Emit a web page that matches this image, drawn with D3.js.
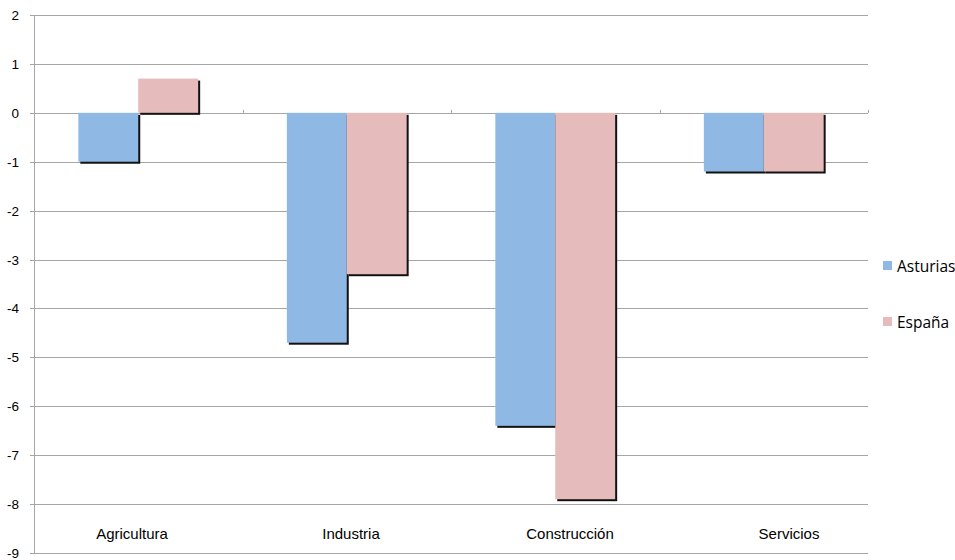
<!DOCTYPE html>
<html><head><meta charset="utf-8">
<script src="https://cdn.jsdelivr.net/npm/d3@7"></script>
<style>body{margin:0;background:#fff}svg{display:block}</style>
</head><body><svg id="c" width="955" height="560"></svg>
<script>
const categories = ["Agricultura","Industria","Construcción","Servicios"];
const seriesNames = ["Asturias","España"];
const asturias = [-1.0,-4.7,-6.4,-1.2];
const espana = [0.7,-3.3,-7.9,-1.2];
const yTicks = [2,1,0,-1,-2,-3,-4,-5,-6,-7,-8,-9];
const colors = ["#8fb9e4","#e6bbbb"];

(function(){
const svg = d3.select("#c");
const pL = 34, pR = 868, pT = 15, pB = 553;
const y = d3.scaleLinear().domain([-9,2]).range([pB, pT]);
const x0 = d3.scaleBand().domain(categories).range([pL, pR]).paddingInner(0).paddingOuter(0);
const x1 = d3.scaleBand().domain(seriesNames).range([0, x0.bandwidth()]).paddingInner(0).paddingOuter(0.74);
const xLabel = d3.scalePoint().domain(categories).range([132, 789]);

svg.append("g").selectAll("line").data(yTicks).join("line")
  .attr("x1", pL-4).attr("x2", pR)
  .attr("y1", d=>Math.round(y(d))+0.5).attr("y2", d=>Math.round(y(d))+0.5)
  .attr("stroke","#a6a6a6").attr("stroke-width",1);
svg.append("line").attr("x1",pL+0.5).attr("x2",pL+0.5).attr("y1",pT).attr("y2",pB)
  .attr("stroke","#a6a6a6");
svg.append("g").selectAll("text").data(yTicks).join("text")
  .attr("x",19).attr("y",d=>y(d)+5).attr("text-anchor","end")
  .attr("font-family","Liberation Sans, Arial, sans-serif").attr("font-size",13.5).attr("fill","#000")
  .text(d=>d);
const bounds = categories.map(c=>x0(c)+x0.bandwidth());
svg.append("g").selectAll("line").data(bounds).join("line")
  .attr("x1",d=>Math.round(d)+0.5).attr("x2",d=>Math.round(d)+0.5)
  .attr("y1",y(0)-3).attr("y2",y(0))
  .attr("stroke","#a6a6a6");

const data = [];
categories.forEach((c,i)=>{
  data.push({c, s:"Asturias", v:asturias[i], k:0});
  data.push({c, s:"España", v:espana[i], k:1});
});
svg.append("g").selectAll("rect").data(data).join("rect")
  .attr("x",d=>x0(d.c)+x1(d.s)+2)
  .attr("y",d=>Math.min(y(d.v),y(0))+2)
  .attr("width",x1.bandwidth())
  .attr("height",d=>Math.abs(y(d.v)-y(0)))
  .attr("fill","#111");
svg.append("g").selectAll("rect").data(data).join("rect")
  .attr("x",d=>x0(d.c)+x1(d.s))
  .attr("y",d=>Math.min(y(d.v),y(0)))
  .attr("width",x1.bandwidth())
  .attr("height",d=>Math.abs(y(d.v)-y(0)))
  .attr("fill",d=>colors[d.k]);

svg.append("g").selectAll("text").data(categories).join("text")
  .attr("x",d=>xLabel(d)).attr("y",539).attr("text-anchor","middle")
  .attr("font-family","Liberation Sans, Arial, sans-serif").attr("font-size",15).attr("fill","#000")
  .text(d=>d);

const lg = svg.append("g").selectAll("g").data(seriesNames).join("g")
  .attr("transform",(d,i)=>`translate(883,${266+i*56})`);
lg.append("rect").attr("x",0).attr("y",-5).attr("width",9).attr("height",9).attr("fill",(d,i)=>colors[i]);
lg.append("text").attr("x",14).attr("y",5.5).attr("font-family","Open Sans, sans-serif").attr("font-size",15.5)
  .attr("fill","#000").text(d=>d);
})();
</script></body></html>
